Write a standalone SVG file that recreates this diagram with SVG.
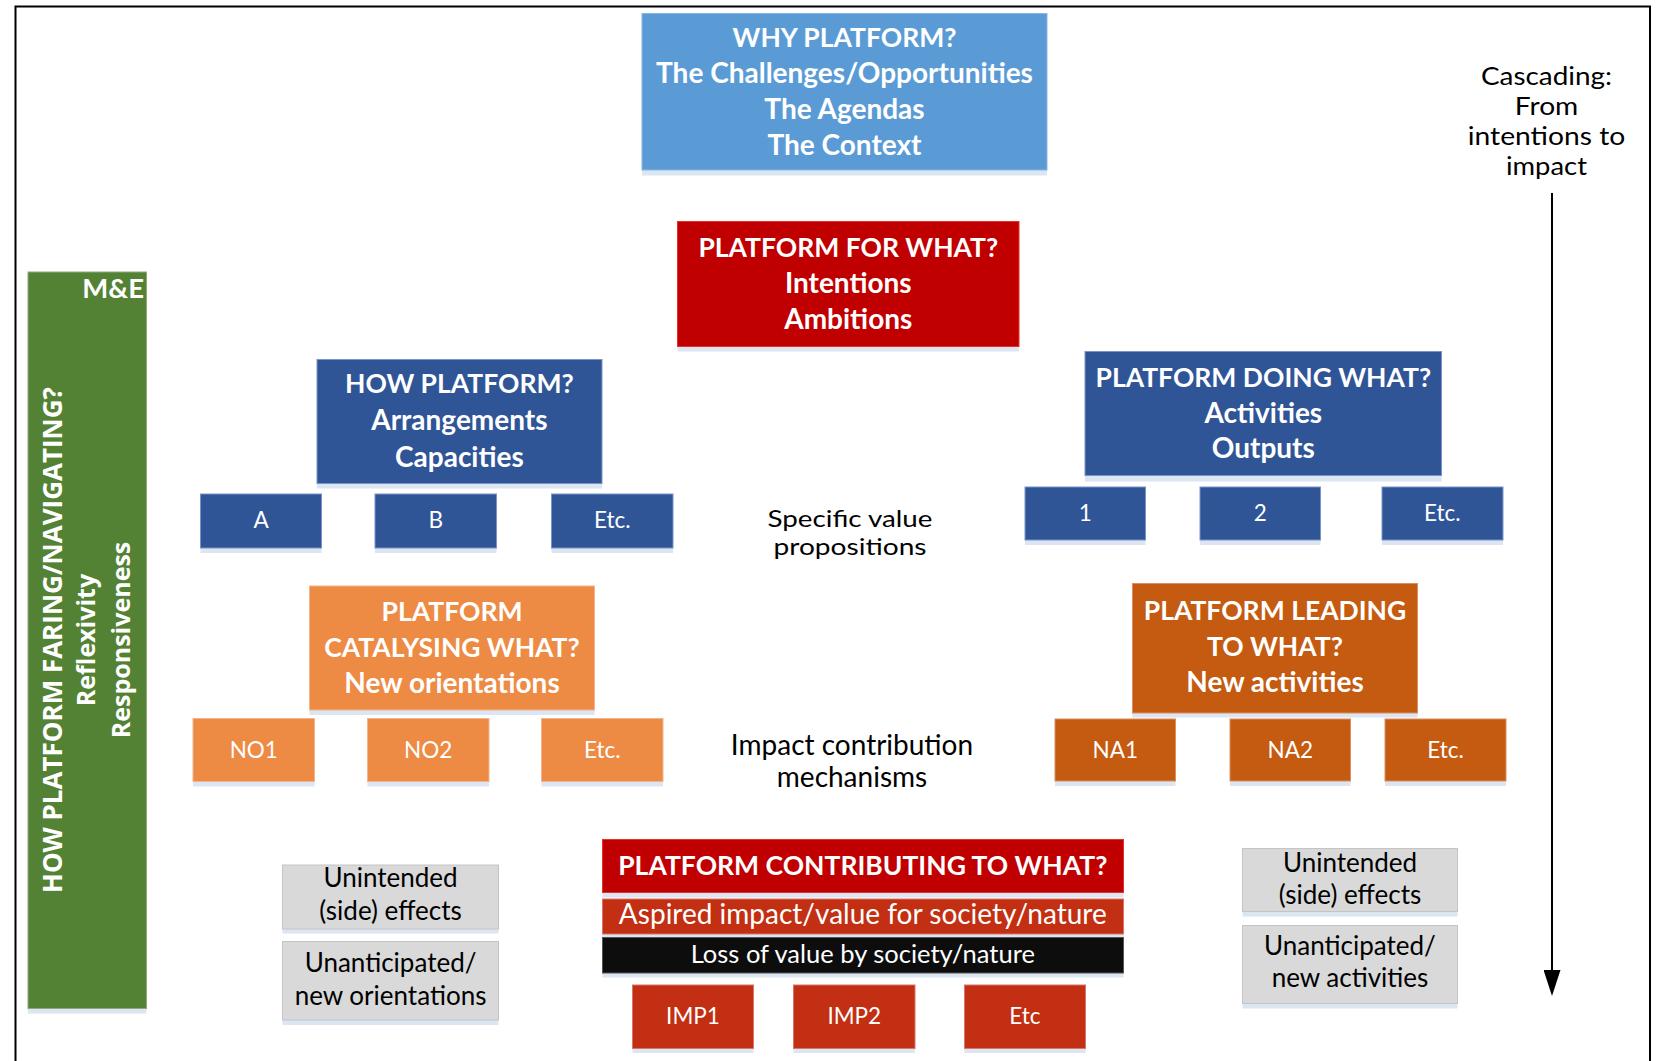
<svg xmlns="http://www.w3.org/2000/svg" width="1660" height="1061" viewBox="0 0 1660 1061">
<defs>
<style>
.t{font-family:Lato,"Liberation Sans",sans-serif;fill:#fff;text-anchor:middle}
.bt{font-weight:bold;font-size:26.5px}
.bm{font-weight:bold;font-size:28px}
.sm{font-size:22.5px}
.md{font-size:26px}
.lg{font-size:28px}
.cs{font-size:24.5px}
.dk{fill:#000}
.vt{font-family:"Open Sans","DejaVu Sans",sans-serif;font-weight:bold;fill:#fff;text-anchor:middle}
.sh{fill:#DCE6F2}
.lb{fill:#5B9BD5;stroke:#8CB6E2;stroke-width:1}
.db{fill:#2F5597;stroke:#7A93C6;stroke-width:1}
.rd{fill:#C00000;stroke:#E8302A;stroke-width:1}
.or{fill:#ED8B45;stroke:#F2B48A;stroke-width:1}
.br{fill:#C55A11;stroke:#D98F62;stroke-width:1}
.ir{fill:#C32F12;stroke:#D9756A;stroke-width:1}
.bk{fill:#0D0D0D;stroke:#555;stroke-width:1}
.gy{fill:#D9D9D9;stroke:#C4C4C4;stroke-width:1}
.gr{fill:#548235;stroke:#8FA883;stroke-width:1}
</style>
<marker id="ah" markerWidth="26" markerHeight="17" refX="0" refY="8.5" orient="auto" markerUnits="userSpaceOnUse" viewBox="0 0 26 17">
<polygon points="0,0 26,8.5 0,17" fill="#000"/>
</marker>
</defs>
<rect width="1660" height="1061" fill="#fff"/>
<path d="M15.5,1061 V6.5 H1650 V1061" fill="none" stroke="#000" stroke-width="2"/>

<g id="connectors">
<line x1="1552" y1="193" x2="1552" y2="970" stroke="#000" stroke-width="2" marker-end="url(#ah)"/>
</g>

<g id="me-column">
<rect class="sh" x="28" y="1008.5" width="118.5" height="5"/>
<rect class="gr" x="28" y="272" width="118.5" height="736.5"/>
<text class="t bt" x="144" y="297.5" style="text-anchor:end;font-size:27.5px">M&amp;E</text>
<text class="vt" font-size="26" transform="translate(61.5,640) rotate(-90)">HOW PLATFORM FARING/NAVIGATING?</text>
<text class="vt" font-size="25" transform="translate(95,640) rotate(-90)">Reflexivity</text>
<text class="vt" font-size="25" transform="translate(129.5,640) rotate(-90)">Responsiveness</text>
</g>

<g id="why">
<rect class="sh" x="642" y="170" width="405" height="5.5"/>
<rect class="lb" x="642" y="13.5" width="405" height="156.5"/>
<text class="t bt" x="844.5" y="46.7">WHY PLATFORM?</text>
<text class="t bm" x="844.5" y="82.7">The Challenges/Opportunities</text>
<text class="t bm" x="844.5" y="118.5">The Agendas</text>
<text class="t bm" x="844.5" y="155">The Context</text>
</g>

<g id="cascading">
<text class="t cs dk" x="1546.5" y="85" textLength="131" lengthAdjust="spacingAndGlyphs">Cascading:</text>
<text class="t cs dk" x="1546.5" y="115" textLength="63.5" lengthAdjust="spacingAndGlyphs">From</text>
<text class="t cs dk" x="1546.5" y="145" textLength="157.5" lengthAdjust="spacingAndGlyphs">intentions to</text>
<text class="t cs dk" x="1546.5" y="175" textLength="81" lengthAdjust="spacingAndGlyphs">impact</text>
</g>

<g id="for-what">
<rect class="sh" x="677.5" y="346.5" width="341.5" height="5"/>
<rect class="rd" x="677.5" y="221.5" width="341.5" height="125"/>
<text class="t bt" x="848.3" y="256.7">PLATFORM FOR WHAT?</text>
<text class="t bm" x="848.3" y="292.7">Intentions</text>
<text class="t bm" x="848.3" y="329.3">Ambitions</text>
</g>

<g id="how">
<rect class="sh" x="317" y="483.5" width="285" height="5"/>
<rect class="db" x="317" y="359.5" width="285" height="124"/>
<text class="t bt" x="459.4" y="393.3">HOW PLATFORM?</text>
<text class="t bm" x="459.4" y="430">Arrangements</text>
<text class="t bm" x="459.4" y="466.7">Capacities</text>
</g>

<g id="how-a">
<rect class="sh" x="200.5" y="548" width="121" height="5"/>
<rect class="db" x="200.5" y="494" width="121" height="54"/>
<text class="t sm" x="261" y="528.3">A</text>
</g>
<g id="how-b">
<rect class="sh" x="375" y="548" width="121.5" height="5"/>
<rect class="db" x="375" y="494" width="121.5" height="54"/>
<text class="t sm" x="435.7" y="528.3">B</text>
</g>
<g id="how-etc">
<rect class="sh" x="551.5" y="548" width="121.5" height="5"/>
<rect class="db" x="551.5" y="494" width="121.5" height="54"/>
<text class="t sm" x="612.3" y="528.3">Etc.</text>
</g>

<g id="doing">
<rect class="sh" x="1085" y="475.5" width="356.5" height="6"/>
<rect class="db" x="1085" y="351.5" width="356.5" height="124"/>
<text class="t bt" x="1263.3" y="386.7">PLATFORM DOING WHAT?</text>
<text class="t bm" x="1263.3" y="422.7">Activities</text>
<text class="t bm" x="1263.3" y="458.3">Outputs</text>
</g>

<g id="doing-1">
<rect class="sh" x="1025" y="540" width="120.5" height="5"/>
<rect class="db" x="1025" y="487" width="120.5" height="53"/>
<text class="t sm" x="1085.3" y="521">1</text>
</g>
<g id="doing-2">
<rect class="sh" x="1200" y="540" width="120.5" height="5"/>
<rect class="db" x="1200" y="487" width="120.5" height="53"/>
<text class="t sm" x="1260.3" y="521">2</text>
</g>
<g id="doing-etc">
<rect class="sh" x="1382" y="540" width="121" height="5"/>
<rect class="db" x="1382" y="487" width="121" height="53"/>
<text class="t sm" x="1442.3" y="521">Etc.</text>
</g>

<g id="label-value">
<text class="t dk" font-size="23.5" x="850" y="527" textLength="165" lengthAdjust="spacingAndGlyphs">Specific value</text>
<text class="t dk" font-size="23.5" x="850" y="555" textLength="153" lengthAdjust="spacingAndGlyphs">propositions</text>
</g>

<g id="catalysing">
<rect class="sh" x="309.5" y="710" width="285" height="5"/>
<rect class="or" x="309.5" y="586" width="285" height="124"/>
<text class="t bt" x="452" y="620.7">PLATFORM</text>
<text class="t bt" x="452" y="656.7">CATALYSING WHAT?</text>
<text class="t bm" x="452" y="692.7">New orientations</text>
</g>

<g id="no1">
<rect class="sh" x="193" y="781.5" width="121.5" height="5"/>
<rect class="or" x="193" y="718.5" width="121.5" height="63"/>
<text class="t sm" x="253.8" y="758.3">NO1</text>
</g>
<g id="no2">
<rect class="sh" x="367.5" y="781.5" width="121.5" height="5"/>
<rect class="or" x="367.5" y="718.5" width="121.5" height="63"/>
<text class="t sm" x="428.1" y="758.3">NO2</text>
</g>
<g id="no-etc">
<rect class="sh" x="541.5" y="781.5" width="121.5" height="5"/>
<rect class="or" x="541.5" y="718.5" width="121.5" height="63"/>
<text class="t sm" x="602.3" y="758.3">Etc.</text>
</g>

<g id="leading">
<rect class="sh" x="1132.5" y="713" width="285" height="4.5"/>
<rect class="br" x="1132.5" y="583.5" width="285" height="129.5"/>
<text class="t bt" x="1275" y="620">PLATFORM LEADING</text>
<text class="t bt" x="1275" y="656">TO WHAT?</text>
<text class="t bm" x="1275" y="691.7">New activities</text>
</g>

<g id="na1">
<rect class="sh" x="1055" y="781" width="120.5" height="5"/>
<rect class="br" x="1055" y="719" width="120.5" height="62"/>
<text class="t sm" x="1115.3" y="757.7">NA1</text>
</g>
<g id="na2">
<rect class="sh" x="1230" y="781" width="120.5" height="5"/>
<rect class="br" x="1230" y="719" width="120.5" height="62"/>
<text class="t sm" x="1290.3" y="757.7">NA2</text>
</g>
<g id="na-etc">
<rect class="sh" x="1385" y="781" width="121" height="5"/>
<rect class="br" x="1385" y="719" width="121" height="62"/>
<text class="t sm" x="1445.5" y="757.7">Etc.</text>
</g>

<g id="label-impact">
<text class="t lg dk" x="852" y="755">Impact contribution</text>
<text class="t lg dk" x="852" y="786.7">mechanisms</text>
</g>

<g id="contributing">
<rect class="sh" x="602.5" y="892.5" width="521" height="5"/>
<rect class="rd" x="602.5" y="839.5" width="521" height="53"/>
<text class="t bt" x="862.8" y="875">PLATFORM CONTRIBUTING TO WHAT?</text>
<rect class="sh" x="602.5" y="934" width="521" height="4"/>
<rect class="ir" x="602.5" y="899" width="521" height="35"/>
<text class="t lg" x="862.8" y="924.3">Aspired impact/value for society/nature</text>
<rect class="sh" x="602.5" y="973" width="521" height="4.5"/>
<rect class="bk" x="602.5" y="937.5" width="521" height="35.5"/>
<text class="t" font-size="25.5" x="862.8" y="963.3">Loss of value by society/nature</text>
</g>

<g id="imp1">
<rect class="sh" x="632.5" y="1048.5" width="121" height="4.5"/>
<rect class="ir" x="632.5" y="985" width="121" height="63.5"/>
<text class="t sm" x="693" y="1024">IMP1</text>
</g>
<g id="imp2">
<rect class="sh" x="793.5" y="1048.5" width="121.5" height="4.5"/>
<rect class="ir" x="793.5" y="985" width="121.5" height="63.5"/>
<text class="t sm" x="854.3" y="1024">IMP2</text>
</g>
<g id="imp-etc">
<rect class="sh" x="964.5" y="1048.5" width="121" height="4.5"/>
<rect class="ir" x="964.5" y="985" width="121" height="63.5"/>
<text class="t sm" x="1025" y="1024">Etc</text>
</g>

<g id="unintended-left">
<rect class="sh" x="282.5" y="929" width="216" height="4.5"/>
<rect class="gy" x="282.5" y="865" width="216" height="64"/>
<text class="t md dk" x="390.6" y="887.3">Unintended</text>
<text class="t md dk" x="390.6" y="920">(side) effects</text>
</g>
<g id="unanticipated-left">
<rect class="sh" x="282.5" y="1020" width="216" height="5"/>
<rect class="gy" x="282.5" y="941.5" width="216" height="78.5"/>
<text class="t md dk" x="390.6" y="971.7">Unanticipated/</text>
<text class="t md dk" x="390.6" y="1005">new orientations</text>
</g>

<g id="unintended-right">
<rect class="sh" x="1242.5" y="911.5" width="215" height="5"/>
<rect class="gy" x="1242.5" y="848.5" width="215" height="63"/>
<text class="t md dk" x="1350" y="871.7">Unintended</text>
<text class="t md dk" x="1350" y="904">(side) effects</text>
</g>
<g id="unanticipated-right">
<rect class="sh" x="1242.5" y="1003.5" width="215" height="5"/>
<rect class="gy" x="1242.5" y="925.5" width="215" height="78"/>
<text class="t md dk" x="1350" y="955">Unanticipated/</text>
<text class="t md dk" x="1350" y="987.3">new activities</text>
</g>
</svg>
